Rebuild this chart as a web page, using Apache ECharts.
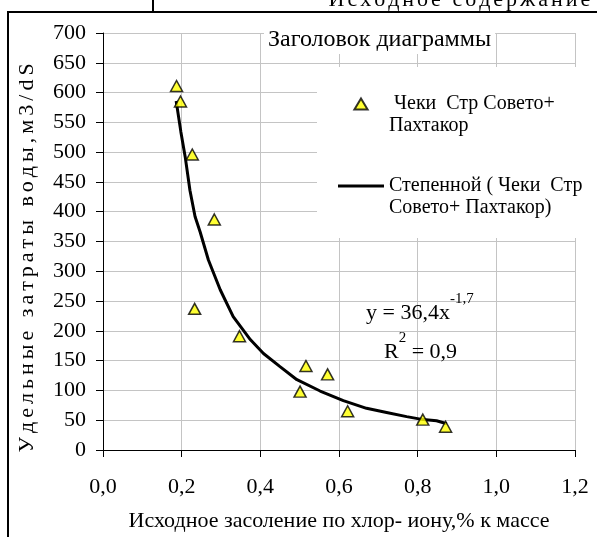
<!DOCTYPE html>
<html>
<head>
<meta charset="utf-8">
<script src="https://cdn.jsdelivr.net/npm/echarts@6/dist/echarts.min.js"></script>
<style>
  html, body { margin: 0; padding: 0; background: #fff; }
  #chart { width: 597px; height: 537px; }
</style>
</head>
<body>
<div id="chart"></div>
<script>
// Series names
const pointsName = 'Чеки  Стр Совето+ Пахтакор';
const trendName = 'Степенной ( Чеки  Стр Совето+ Пахтакор)';

// Measured points: initial chloride salinity (% of mass) vs specific water use
const salinity = [0.187, 0.197, 0.227, 0.283, 0.233, 0.347, 0.501, 0.516, 0.571, 0.622, 0.813, 0.871];
const waterUse = [611, 585, 496, 387, 237, 191, 98, 141, 127, 65, 51, 39];

// Power trend line vertices
const trendX = [0.186, 0.198, 0.209, 0.221, 0.234, 0.247, 0.268, 0.298, 0.331, 0.375, 0.408, 0.450, 0.493, 0.552, 0.611, 0.670, 0.721, 0.772, 0.814, 0.848, 0.874];
const trendY = [586, 534, 492, 436, 392, 366, 319, 269, 224, 185, 162, 140, 118, 99, 83, 70, 63, 56, 51, 49, 44];

// Axis tick labels
const xTickLabels = ['0,0', '0,2', '0,4', '0,6', '0,8', '1,0', '1,2'];
const yTickLabels = ['0', '50', '100', '150', '200', '250', '300', '350', '400', '450', '500', '550', '600', '650', '700'];

// Texts
const titleText = 'Заголовок диаграммы';
const xAxisTitle = 'Исходное засоление по хлор- иону,% к массе';
const yAxisTitle = 'Удельные затраты воды,м3/dS';
const headerText = 'Исходное содержание';

const FONT = '"Liberation Serif", "Times New Roman", serif';

// Wide tracking: one rich token per character
function tracked(str) {
  return Array.from(str).map(ch => '{c|' + ch + '}').join('');
}

const chart = echarts.init(document.getElementById('chart'), null, { renderer: 'canvas' });

const option = {
  backgroundColor: '#ffffff',
  animation: false,
  textStyle: { fontFamily: FONT, color: '#000' },
  title: {
    text: titleText,
    left: 264,
    top: 26,
    padding: [2, 4],
    backgroundColor: '#ffffff',
    textStyle: { fontFamily: FONT, fontSize: 24, fontWeight: 'normal', color: '#000' }
  },
  legend: {
    left: 317,
    top: 67,
    orient: 'vertical',
    padding: [4, 10, 19, 21],
    itemGap: 16,
    itemWidth: 46,
    itemHeight: 11,
    symbolKeepAspect: true,
    selectedMode: false,
    backgroundColor: '#ffffff',
    data: [
      { name: pointsName, icon: 'path://M6,0L12,10L0,10Z' },
      { name: trendName, icon: 'path://M0,0L46,0L46,3L0,3Z' }
    ],
    formatter: function (name) {
      // leading blank line keeps the marker level with the first text line
      if (name === pointsName) return '\n Чеки  Стр Совето+\nПахтакор';
      return '\nСтепенной ( Чеки  Стр\nСовето+ Пахтакор)';
    },
    textStyle: {
      fontFamily: FONT,
      fontSize: 20,
      lineHeight: 22,
      color: '#000'
    }
  },
  grid: { left: 103, right: 22, top: 33, bottom: 87, containLabel: false, outerBoundsMode: 'none' },
  xAxis: {
    type: 'value',
    min: 0,
    max: 1.2,
    interval: 0.2,
    name: xAxisTitle,
    nameLocation: 'middle',
    nameGap: 60,
    nameTextStyle: { fontFamily: FONT, fontSize: 22, color: '#000' },
    axisLine: { show: true, lineStyle: { color: '#000', width: 1 } },
    axisTick: { show: true, inside: false, length: 7, lineStyle: { color: '#000' } },
    axisLabel: {
      margin: 26,
      fontFamily: FONT,
      fontSize: 22,
      color: '#000',
      formatter: function (v, i) { return xTickLabels[i]; }
    },
    splitLine: { show: true, lineStyle: { color: '#c4c4c4', width: 1 } }
  },
  yAxis: {
    type: 'value',
    min: 0,
    max: 700,
    interval: 50,
    name: tracked(yAxisTitle),
    nameLocation: 'middle',
    nameGap: 65,
    nameTextStyle: {
      fontFamily: FONT,
      fontSize: 22,
      color: '#000',
      padding: [0, 33, 0, 0],
      rich: {
        c: { fontFamily: FONT, fontSize: 22, color: '#000', padding: [0, 2, 0, 2] }
      }
    },
    axisLine: { show: true, lineStyle: { color: '#000', width: 1 } },
    axisTick: { show: true, inside: false, length: 7, lineStyle: { color: '#000' } },
    axisLabel: {
      margin: 17,
      fontFamily: FONT,
      fontSize: 22,
      color: '#000',
      formatter: function (v, i) { return yTickLabels[i]; }
    },
    splitLine: { show: true, lineStyle: { color: '#c4c4c4', width: 1 } }
  },
  series: [
    {
      name: trendName,
      type: 'line',
      data: trendX.map((x, i) => [x, trendY[i]]),
      symbol: 'none',
      smooth: false,
      lineStyle: { color: '#000', width: 3 },
      itemStyle: { color: '#000' },
      z: 2
    },
    {
      name: pointsName,
      type: 'scatter',
      data: salinity.map((x, i) => [x, waterUse[i]]),
      symbol: 'triangle',
      symbolSize: [12, 11],
      itemStyle: { color: '#ffff00', borderColor: '#000', borderWidth: 1.5 },
      z: 3
    }
  ],
  graphic: [
    // Regression equation
    {
      type: 'text',
      left: 366,
      top: 292,
      z: 10,
      style: {
        text: '{b|y = 36,4x}{s|-1,7}',
        rich: {
          b: { fontFamily: FONT, fontSize: 22, lineHeight: 32, verticalAlign: 'bottom', fill: '#000' },
          s: { fontFamily: FONT, fontSize: 15, lineHeight: 32, verticalAlign: 'top', fill: '#000' }
        }
      }
    },
    {
      type: 'text',
      left: 384,
      top: 331,
      z: 10,
      style: {
        text: '{b|R}{s|2}{b| = 0,9}',
        rich: {
          b: { fontFamily: FONT, fontSize: 22, lineHeight: 32, verticalAlign: 'bottom', fill: '#000' },
          s: { fontFamily: FONT, fontSize: 15, lineHeight: 32, verticalAlign: 'top', fill: '#000' }
        }
      }
    },
    // Surrounding frame
    { type: 'line', z: 20, shape: { x1: 7, y1: 12, x2: 597, y2: 12 }, style: { stroke: '#000', lineWidth: 2 } },
    { type: 'line', z: 20, shape: { x1: 8, y1: 11, x2: 8, y2: 537 }, style: { stroke: '#000', lineWidth: 2 } },
    { type: 'line', z: 20, shape: { x1: 153, y1: 0, x2: 153, y2: 12 }, style: { stroke: '#000', lineWidth: 2 } },
    {
      type: 'text',
      x: 327,
      y: 11,
      z: 20,
      style: {
        text: tracked(headerText),
        verticalAlign: 'bottom',
        rich: {
          c: { fontFamily: FONT, fontSize: 22, fill: '#000', padding: [0, 1.5, 0, 1.5] }
        }
      }
    }
  ]
};

chart.setOption(option);
</script>
</body>
</html>
